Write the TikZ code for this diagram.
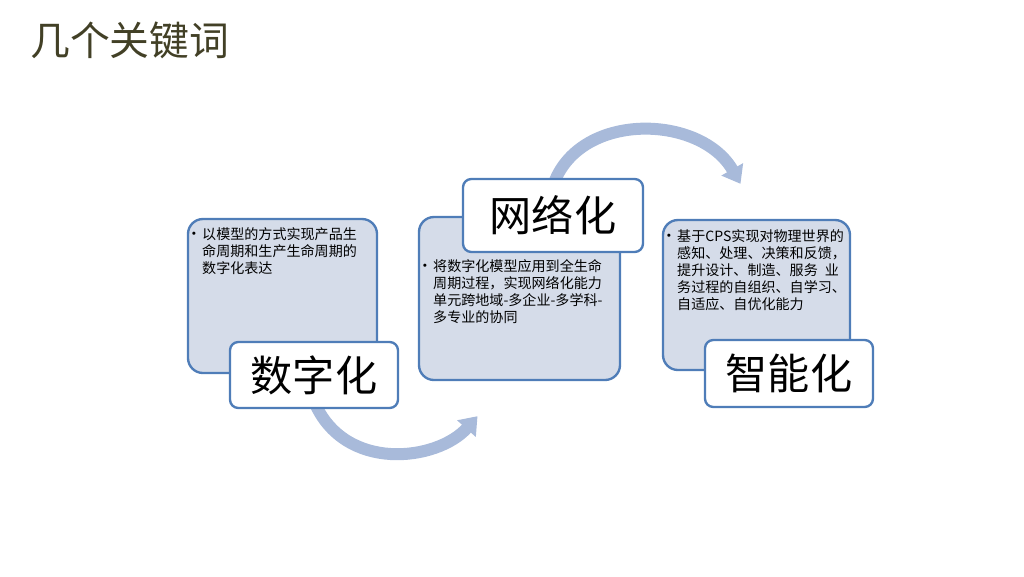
\documentclass[tikz,border=0pt]{standalone}
\usepackage{fontspec}
\setmainfont{Noto Sans CJK SC}
\usepackage{tikz}
\usetikzlibrary{arrows.meta,calc}
\definecolor{cardfill}{RGB}{213,220,233}
\definecolor{cardline}{RGB}{79,125,184}
\definecolor{flowblue}{RGB}{168,186,218}
\definecolor{titleolive}{RGB}{66,64,38}
\pgfdeclarelayer{back}
\pgfsetlayers{back,main}
\begin{document}
\begin{tikzpicture}[x=0.03cm,y=-0.03cm,line join=round,
  card/.style={draw=cardline,fill=cardfill,line width=2pt,rounded corners=0.45cm},
  keyword/.style={draw=cardline,fill=white,line width=2pt,rounded corners=0.25cm,
    font=\fontsize{36pt}{36pt}\selectfont},
  blurb/.style={anchor=north west,inner sep=0,align=left,
    font=\fontsize{12pt}{14.5pt}\selectfont},
  flow/.style={draw=flowblue,line width=0.36cm,-{Triangle[width=0.72cm,length=0.5cm]}}]
  \useasboundingbox (0,0) rectangle (1024,576);
  \newcommand{\dotmark}{\llap{\fontsize{13pt}{13pt}\selectfont •\hspace{0.5pt}}}
  \node[anchor=west,inner sep=0,text=titleolive,font=\fontsize{34pt}{34pt}\selectfont]
    (title) at (30,40) {几个关键词};
  % three cards
  \node[card,minimum width=5.67cm,minimum height=4.62cm] (box1) at (282.5,296) {};
  \node[card,minimum width=6.03cm,minimum height=4.89cm] (box2) at (519.5,298.5) {};
  \node[card,minimum width=5.61cm,minimum height=4.5cm] (box3) at (756.5,295) {};
  \node[blurb] (txt1) at (202,227) {\dotmark 以模型的方式实现产品生\\命周期和生产生命周期的\\数字化表达};
  \node[blurb] (txt2) at (433,259) {\dotmark 将数字化模型应用到全生命\\周期过程，实现网络化能力\\单元跨地域-多企业-多学科-\\多专业的协同};
  \node[blurb] (txt3) at (677,229) {\dotmark 基于CPS实现对物理世界的\\感知、处理、决策和反馈，\\提升设计、制造、服务\hspace{0.5em}业\\务过程的自组织、自学习、\\自适应、自优化能力};
  % keyword tags
  \node[keyword,minimum width=5.04cm,minimum height=1.98cm] (lbl1) at (314,375) {数字化};
  \node[keyword,minimum width=5.4cm,minimum height=2.19cm] (lbl2) at (553,215.5) {网络化};
  \node[keyword,minimum width=5.04cm,minimum height=2.01cm] (lbl3) at (789,373.5) {智能化};
  \begin{pgfonlayer}{back}
    \draw[flow] ($(lbl1.south)+(0,-8)$) .. controls +(30,72) and +(-40,45) .. ($(box2.south)+(-42,35)$);
    \draw[flow] ($(lbl2.north)+(0,8)$) .. controls +(25,-75) and +(-40,-70) .. ($(box3.north)+(-16,-35)$);
  \end{pgfonlayer}
\end{tikzpicture}
\end{document}
